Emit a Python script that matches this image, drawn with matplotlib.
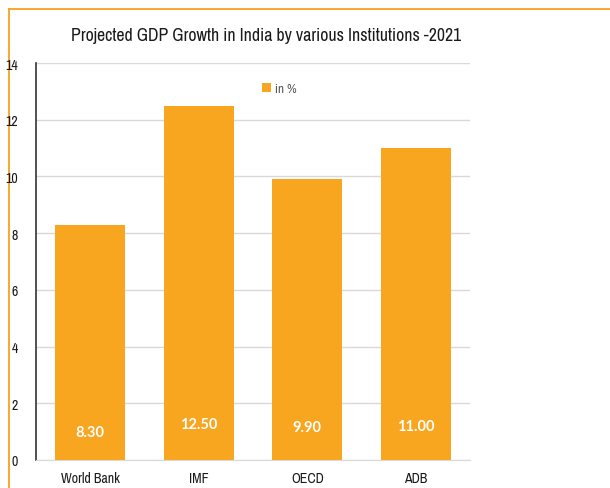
import matplotlib
matplotlib.use('Agg')
import matplotlib.pyplot as plt

# data
institutions = ["World Bank", "IMF", "OECD", "ADB"]
growth = [8.30, 12.50, 9.90, 11.00]
label_y = [0.99, 1.27, 1.16, 1.20]   # where the value labels sit inside the bars
yticks = [0, 2, 4, 6, 8, 10, 12, 14]

orange = "#f8a51f"
plt.rcParams['font.family'] = ['Archivo Narrow', 'Lato', 'DejaVu Sans']

fig = plt.figure(figsize=(6.10, 4.89), dpi=100)
W, H = 610, 489

# orange frame round the figure (runs off the right and bottom edges)
bg = fig.add_axes([8.5 / W, -0.1, 1.0, 1.1 - 9.5 / H], zorder=-1)
bg.set_xticks([])
bg.set_yticks([])
bg.patch.set_alpha(0)
for s in ["right", "bottom"]:
    bg.spines[s].set_visible(False)
for s in ["top", "left"]:
    bg.spines[s].set_color("#f7a21b")
    bg.spines[s].set_linewidth(1.3)

ax = fig.add_axes([36 / W, 1 - 461 / H, (470 - 36) / W, (461 - 64) / H])

x = range(len(institutions))
ax.bar(x, growth, width=0.645, color=orange, label="in %", zorder=2)

# bold value labels (Archivo Narrow has no bold here, so Lato)
for i, v in enumerate(growth):
    ax.text(i, label_y[i], "%.2f" % v, ha="center", va="center",
            color="white", fontsize=10.5, fontweight="bold",
            family=["Lato", "DejaVu Sans"], zorder=3)

ax.set_ylim(0, 14)
ax.set_xlim(-0.5, len(institutions) - 0.5)
ax.set_yticks(yticks)
ax.set_xticks(list(x))
ax.set_xticklabels(institutions)
ax.tick_params(axis="both", length=0, labelsize=10, colors="#1a1a1a")
ax.tick_params(axis="y", pad=13)
ax.tick_params(axis="x", pad=8)
ax.yaxis.grid(True, color="#d9d9d9", linewidth=1, zorder=0)
ax.set_axisbelow(True)

for s in ["top", "right"]:
    ax.spines[s].set_visible(False)
ax.spines["left"].set_color("#333333")
ax.spines["left"].set_linewidth(1.2)
ax.spines["bottom"].set_color("#d9d9d9")

fig.text(266 / W, 1 - 36 / H,
         "Projected GDP Growth in India by various Institutions -2021",
         ha="center", va="center", fontsize=12.8, color="#1a1a1a")

leg = ax.legend(loc="upper center", bbox_to_anchor=(0.56, 0.98), frameon=False,
                fontsize=9.5, handlelength=0.7, handleheight=0.7,
                handletextpad=0.3, labelcolor="#595959")

fig.savefig("out.png", dpi=100)
